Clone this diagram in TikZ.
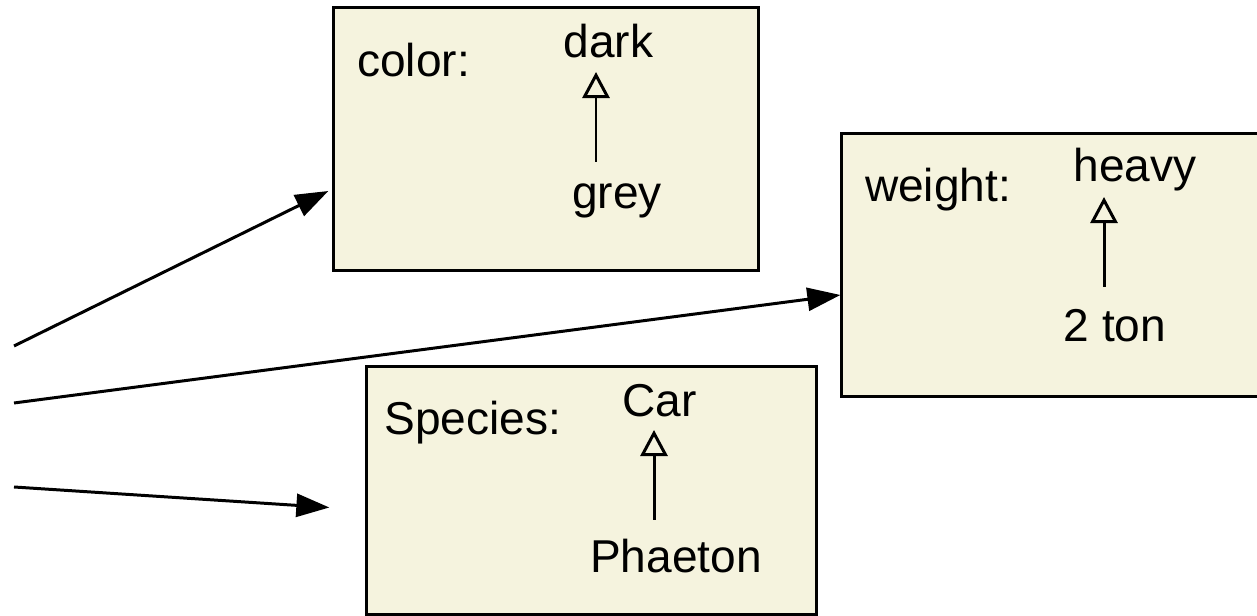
\documentclass[tikz,border=0pt]{standalone}
\usepackage{fontspec}
\setmainfont{Liberation Sans}
\usetikzlibrary{arrows.meta}
\definecolor{boxfill}{RGB}{245,243,222}
\begin{document}
\begin{tikzpicture}[x=0.01cm,y=-0.01cm,line width=0.85pt,
   attrbox/.style={draw,fill=boxfill,inner sep=0pt},
   lbl/.style={anchor=base,inner sep=0pt,font=\fontsize{13.1}{15.7}\selectfont},
   link/.style={-{Triangle[length=0.33cm,width=0.23cm]}},
   isa/.style={-{Triangle[open,length=0.26cm,width=0.27cm]}}]
   \useasboundingbox (0,0) rectangle (1257,616);
   % the three attribute boxes
   \node[attrbox,minimum width=4.24cm,minimum height=2.62cm] (colorbox) at (546,139) {};
   \node[attrbox,minimum width=4.20cm,minimum height=2.62cm] (weightbox) at (1052,265) {};
   \node[attrbox,minimum width=4.49cm,minimum height=2.47cm] (speciesbox) at (591.5,490.5) {};
	 \node[lbl] (color) at (413.5,77) {color:};
	 \node[lbl] (dark) at (608.5,58) {dark};
	 \node[lbl] (grey) at (617,209) {grey};
	 \node[lbl] (weight) at (938,202) {weight:};
	 \node[lbl] (heavy) at (1135,182) {heavy};
	 \node[lbl] (ton) at (1115,342) {2 ton};
	 \node[lbl] (species) at (473,435) {Species:};
	 \node[lbl] (car) at (659.5,417) {Car};
	 \node[lbl] (phaeton) at (676,573) {Phaeton};
	  \draw[isa] ([shift={(-21,-47)}]grey.base) -- ([shift={(-12.5,14)}]dark.base);
	  \draw[isa] ([shift={(-11,-55)}]ton.base) -- ([shift={(-31,15)}]heavy.base);
	  \draw[isa] ([shift={(-22,-53)}]phaeton.base) -- ([shift={(-5.5,13)}]car.base);
   % links coming in from the left
   \coordinate (src1) at (14,346);
   \coordinate (src2) at (14,403);
   \coordinate (src3) at (14,487);
	 \draw[link] (src1) -- ([shift={(-4,52)}]colorbox.west);
	 \draw[link] (src2) -- ([shift={(0,30)}]weightbox.west);
	 \draw[link] (src3) -- ([shift={(-36,17)}]speciesbox.west);
   \end{tikzpicture}
\end{document}
